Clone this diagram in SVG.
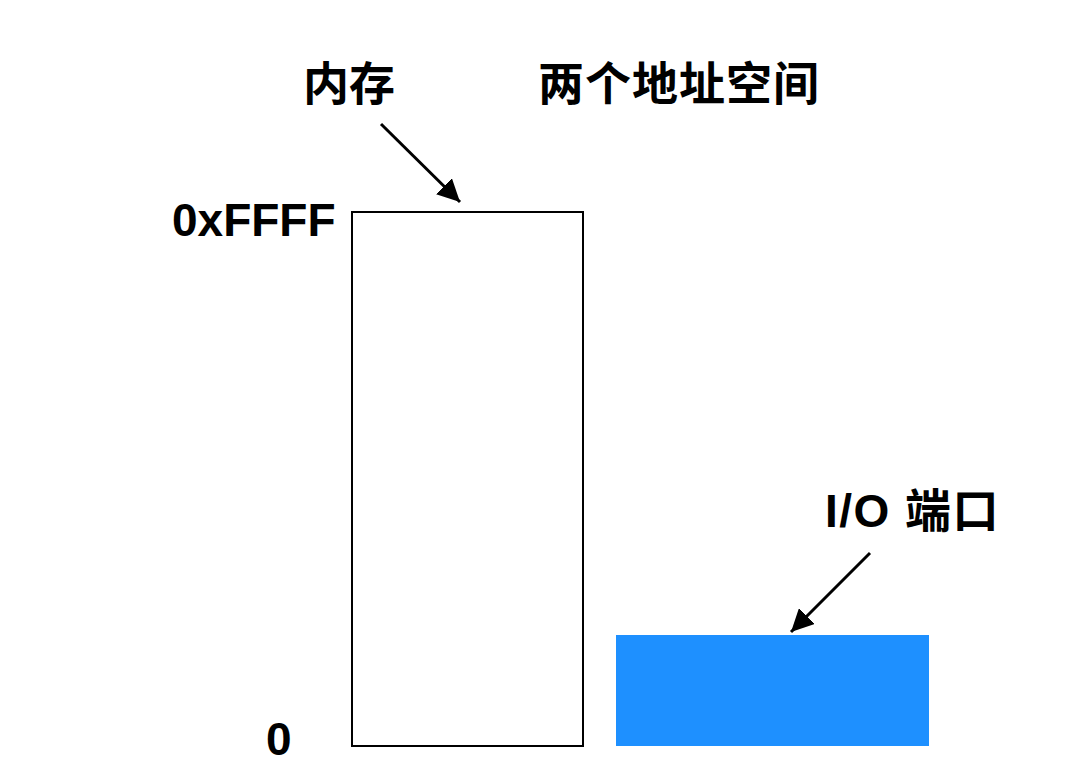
<svg xmlns="http://www.w3.org/2000/svg" width="1080" height="764" viewBox="0 0 1080 764">
<style>
.t{font-family:"Liberation Sans","Noto Sans CJK SC",sans-serif;font-weight:bold;font-size:46px;fill:#000}
.c{stroke:#000;stroke-width:3;fill:none}
</style>
<defs>
<marker id="ah" viewBox="0 0 10 10" refX="10" refY="5" markerWidth="7.5" markerHeight="7.5" orient="auto" markerUnits="strokeWidth">
<path d="M0,0 L10,5 L0,10 z" fill="#000"/>
</marker>
</defs>
<rect width="1080" height="764" fill="#fff"/>
<g id="memory">
<rect x="352" y="212" width="231" height="534" fill="#fff" stroke="#000" stroke-width="2"/>
</g>
<g id="io">
<rect x="616" y="635" width="313" height="111" fill="#1E90FF"/>
</g>
<g id="labels">
<text class="t" x="303" y="100">内存</text>
<text class="t" x="538" y="100" letter-spacing="1">两个地址空间</text>
<text class="t" x="172" y="236">0xFFFF</text>
<text class="t" x="266" y="755">0</text>
<text class="t" x="825" y="527" letter-spacing="1.5">I/O 端口</text>
</g>
<g id="connectors">
<line class="c" x1="381" y1="124" x2="460" y2="202" marker-end="url(#ah)"/>
<line class="c" x1="870" y1="553" x2="791" y2="632" marker-end="url(#ah)"/>
</g>
</svg>
